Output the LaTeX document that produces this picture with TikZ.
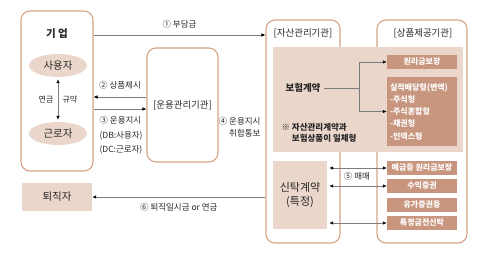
\documentclass[tikz,border=0pt]{standalone}
\usepackage{fontspec}
\setmainfont{Noto Sans CJK KR}
\usetikzlibrary{arrows.meta, calc, positioning, shapes.geometric}
\definecolor{bordeCaja}{RGB}{214,163,134}
\definecolor{rellenoClaro}{RGB}{234,214,202}
\definecolor{rellenoOscuro}{RGB}{200,150,126}
\definecolor{textoGris}{RGB}{40,40,40}
\definecolor{lineaGris}{RGB}{125,125,125}

\begin{document}
\begin{tikzpicture}[x=1pt, y=-1pt, text=textoGris,
    font=\fontsize{8.5}{12}\selectfont,
    caja/.style={draw=bordeCaja, line width=1.1pt, rounded corners=9pt, inner sep=0pt},
    elipse/.style={ellipse, fill=rellenoClaro, minimum width=58pt, minimum height=23pt,
        inner sep=0pt, font=\fontsize{10.5}{12}\selectfont},
    clara/.style={fill=rellenoClaro, inner sep=0pt},
    oscura/.style={fill=rellenoOscuro, text=white, minimum width=70pt, minimum height=14pt,
        inner sep=0pt, font=\bfseries\fontsize{8}{10}\selectfont},
    flecha/.style={-{Latex[length=4pt, width=3.5pt, black]}, draw=lineaGris, line width=0.6pt},
    doble/.style={{Latex[length=4pt, width=3.5pt, black]}-{Latex[length=4pt, width=3.5pt, black]},
        draw=lineaGris, line width=0.6pt}]

    % Marco de la imagen
    \useasboundingbox (0,0) rectangle (504,262);

    % Empresa con usuario y trabajador
    \node[caja, minimum width=72pt, minimum height=160pt] (empresa) at (57,91) {};
    \node[font=\bfseries\fontsize{10.5}{12}\selectfont] (tituloEmpresa) at (57,34) {기 업};
    \node[elipse] (usuario) at (58,65.5) {사용자};
    \node[elipse] (trabajador) at (58,133.5) {근로자};
    \draw[doble, shorten <=2pt, shorten >=2pt] (usuario.south) -- (trabajador.north)
        node[midway, left=1pt, font=\fontsize{8}{10}\selectfont] {연금}
        node[midway, right=1pt, font=\fontsize{8}{10}\selectfont] {규약};

    % Institucion de gestion operativa
    \node[caja, minimum width=71pt, minimum height=114pt, font=\fontsize{9.5}{11}\selectfont]
        (operador) at (182.5,105) {[운용관리기관]};

    % Instituciones de activos y de productos
    \node[caja, minimum width=74pt, minimum height=223pt] (activos) at (303,131.5) {};
    \node[font=\fontsize{9.5}{11}\selectfont] (tituloActivos) at (303,33) {[자산관리기관]};
    \node[caja, minimum width=90pt, minimum height=223pt] (productos) at (422,131.5) {};
    \node[font=\fontsize{9.5}{11}\selectfont] (tituloProductos) at (423,33) {[상품제공기관]};

    % Zona del contrato de seguro
    \node[clara, minimum width=190pt, minimum height=105pt] (fondoSeguro) at (368,99.5) {};
    \node[font=\bfseries\fontsize{9.5}{11}\selectfont] (seguro) at (303,88) {보험계약};
    \node[oscura] (garantia) at (422,62) {원리금보장};
    \node[oscura, minimum height=69pt, text width=64pt, align=left,
        font=\bfseries\fontsize{8}{12.25}\selectfont] (variable) at (422,111.5)
        {실적배당형(변액)\\-주식형\\-주식혼합형\\-채권형\\-인덱스형};
    \node[anchor=west, align=left, font=\bfseries\fontsize{8.5}{10.5}\selectfont]
        (nota) at (278,133) {※ 자산관리계약과\\\phantom{※ }보험상품이 일체형};
    \coordinate (rama) at (359,88);
    \draw[draw=lineaGris, line width=0.6pt] (seguro.east) -- (rama);
    \draw[flecha] (rama) |- (garantia.west);
    \draw[flecha] (rama) |- (variable.west);

    % Contrato fiduciario y sus productos
    \node[clara, minimum width=54pt, minimum height=68pt, align=center,
        font=\fontsize{11}{14}\selectfont] (fideicomiso) at (300,195) {신탁계약\\(특정)};
    \node[oscura] (deposito) at (422,168) {예금등 원리금보장};
    \node[oscura] (beneficio) at (422,186) {수익증권};
    \node[oscura] (valores) at (422,204.5) {유가증권등};
    \node[oscura] (dinero) at (422,223) {특정금전신탁};
    \draw[doble, shorten <=2pt] (fideicomiso.east |- deposito) -- (deposito.west)
        node[midway, below=1pt] {⑤ 매매};
    \draw[doble, shorten <=2pt] (fideicomiso.east |- beneficio) -- (beneficio.west);
    \draw[doble, shorten <=2pt] (fideicomiso.east |- dinero) -- (dinero.west);

    % Jubilado
    \node[clara, minimum width=70pt, minimum height=28pt, font=\fontsize{10.5}{12}\selectfont]
        (retirado) at (57,197) {퇴직자};

    % Flujos entre instituciones
    \draw[flecha] (empresa.east |- 0,35) -- (activos.west |- 0,35)
        node[midway, above=3pt] {① 부담금};
    \draw[flecha] (operador.west |- 0,97) -- (empresa.east |- 0,97)
        node[midway, above=4pt] {② 상품제시};
    \draw[flecha] (empresa.east |- 0,109) -- (operador.west |- 0,109);
    \node[anchor=north west, align=left, font=\fontsize{8.5}{14.5}\selectfont]
        (instruccion) at (96,113) {③ 운용지시\\(DB:사용자)\\(DC:근로자)};
    \node[anchor=east, align=right] (aviso) at (264,127) {④ 운용지시\\취합통보};
    \draw[flecha] (activos.west |- retirado.east) -- (retirado.east)
        node[midway, below=3pt] {⑥ 퇴직일시금 or 연금};
\end{tikzpicture}
\end{document}
